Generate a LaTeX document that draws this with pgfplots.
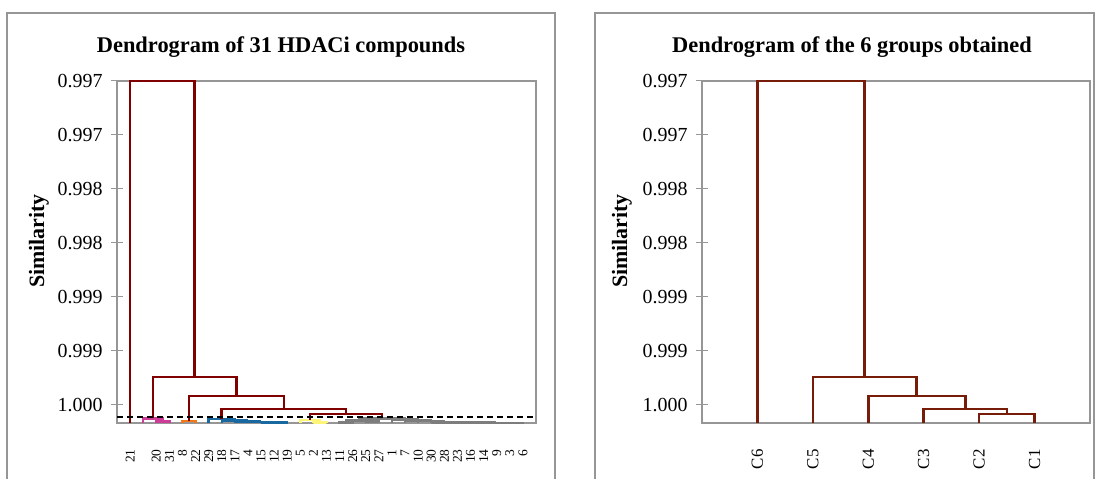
\documentclass[border=0pt]{standalone}
\usepackage{fontspec}
\setmainfont{Liberation Serif}
\usepackage{pgfplots}
\pgfplotsset{compat=1.18}
\definecolor{darkred}{RGB}{128,0,0}
\definecolor{brownred}{RGB}{118,28,8}
\definecolor{pinkc}{RGB}{205,60,150}
\definecolor{orangec}{RGB}{240,120,30}
\definecolor{bluec}{RGB}{25,105,160}
\definecolor{yellowc}{RGB}{255,245,120}
\definecolor{grayc}{RGB}{125,125,125}
\definecolor{framec}{RGB}{150,150,150}
\pgfplotsset{
  dendro/.style={
    scale only axis, width=419bp, height=342bp,
    y dir=reverse, ymin=0.9965, ymax=0.999667,
    clip=false,
    axis line style={framec, line width=1.2bp},
    ytick={0.9965,0.997,0.9975,0.998,0.9985,0.999,0.9995},
    yticklabels={0.997,0.997,0.998,0.998,0.999,0.999,1.000},
    ytick pos=left,
    tick align=center,
    major tick length=12bp,
    ytick style={framec, line width=1bp},
    xtick style={draw=none},
    yticklabel style={font=\fontsize{20}{20}\selectfont, xshift=-5bp},
    /pgf/number format/assume math mode=true,
  },
}
\begin{document}
\begin{tikzpicture}
\useasboundingbox (0,0) rectangle (1095bp,479bp);
\fill[white] (0,0) rectangle (1095bp,479bp);
\draw[framec, line width=1.2bp] (7bp,-10bp) -- (7bp,466bp) -- (555bp,466bp) -- (555bp,-10bp);
\draw[framec, line width=1.2bp] (595bp,-10bp) -- (595bp,466bp) -- (1094bp,466bp) -- (1094bp,-10bp);
% ---------- left ----------
\begin{axis}[dendro, at={(117bp,56bp)}, anchor=south west,
  xmin=0, xmax=32,
  xtick={1,...,31},
  xticklabels={21,,20,31,8,22,29,18,17,4,15,12,19,5,2,13,11,26,25,27,1,7,10,30,28,23,16,14,9,3,6},
  xticklabel style={font=\fontsize{13.5}{13.5}\selectfont, rotate=90, anchor=east, xshift=-17bp},
]
% pink
\addplot[pinkc, line width=2.5bp] coordinates {(3,0.999667)(3,0.999655)(4,0.999655)(4,0.999667)};
\addplot[pinkc, line width=2.5bp] coordinates {(2,0.999667)(2,0.999625)(3.5,0.999625)(3.5,0.999655)};
% orange
\addplot[orangec, line width=2.5bp] coordinates {(5,0.999667)(5,0.999650)(6,0.999650)(6,0.999667)};
% blue
\addplot[bluec, line width=2.5bp] coordinates {(12,0.999667)(12,0.999664)(13,0.999664)(13,0.999667)};
\addplot[bluec, line width=2.5bp] coordinates {(11,0.999667)(11,0.999661)(12.5,0.999661)(12.5,0.999664)};
\addplot[bluec, line width=2.5bp] coordinates {(10,0.999667)(10,0.999658)(11.75,0.999658)(11.75,0.999661)};
\addplot[bluec, line width=2.5bp] coordinates {(9,0.999667)(9,0.999652)(10.875,0.999652)(10.875,0.999658)};
\addplot[bluec, line width=2.5bp] coordinates {(8,0.999667)(8,0.999644)(9.94,0.999644)(9.94,0.999652)};
\addplot[bluec, line width=2.5bp] coordinates {(7,0.999667)(7,0.999630)(8.97,0.999630)(8.97,0.999644)};
% yellow
\addplot[yellowc, line width=2.5bp] coordinates {(15,0.999667)(15,0.999662)(16,0.999662)(16,0.999667)};
\addplot[yellowc, line width=2.5bp] coordinates {(14,0.999667)(14,0.999639)(15.5,0.999639)(15.5,0.999662)};
% gray
\addplot[grayc, line width=2.5bp] coordinates {(17,0.999667)(17,0.999664)(18,0.999664)(18,0.999667)};
\addplot[grayc, line width=2.5bp] coordinates {(19,0.999667)(19,0.999655)(20,0.999655)(20,0.999667)};
\addplot[grayc, line width=2.5bp] coordinates {(17.5,0.999664)(17.5,0.999645)(19.5,0.999645)(19.5,0.999655)};
\addplot[grayc, line width=2.5bp] coordinates {(30,0.999667)(30,0.999666)(31,0.999666)(31,0.999667)};
\addplot[grayc, line width=2.5bp] coordinates {(29,0.999667)(29,0.999665)(30.5,0.999665)(30.5,0.999666)};
\addplot[grayc, line width=2.5bp] coordinates {(28,0.999667)(28,0.999665)(29.75,0.999665)(29.75,0.999665)};
\addplot[grayc, line width=2.5bp] coordinates {(27,0.999667)(27,0.999664)(28.875,0.999664)(28.875,0.999665)};
\addplot[grayc, line width=2.5bp] coordinates {(26,0.999667)(26,0.999664)(27.94,0.999664)(27.94,0.999664)};
\addplot[grayc, line width=2.5bp] coordinates {(25,0.999667)(25,0.999663)(26.97,0.999663)(26.97,0.999664)};
\addplot[grayc, line width=2.5bp] coordinates {(24,0.999667)(24,0.999662)(25.98,0.999662)(25.98,0.999663)};
\addplot[grayc, line width=2.5bp] coordinates {(23,0.999667)(23,0.999650)(24.99,0.999650)(24.99,0.999662)};
\addplot[grayc, line width=2.5bp] coordinates {(22,0.999667)(22,0.999642)(23.995,0.999642)(23.995,0.999650)};
\addplot[grayc, line width=2.5bp] coordinates {(21,0.999667)(21,0.999635)(23.0,0.999635)(23.0,0.999642)};
\addplot[grayc, line width=2.5bp] coordinates {(18.5,0.999645)(18.5,0.999625)(22.0,0.999625)(22.0,0.999635)};
% main links
\addplot[darkred, line width=2.5bp] coordinates {(14.75,0.999639)(14.75,0.999583)(20.25,0.999583)(20.25,0.999625)};
\addplot[darkred, line width=2.5bp] coordinates {(7.985,0.999630)(7.985,0.999537)(17.5,0.999537)(17.5,0.999583)};
\addplot[darkred, line width=2.5bp] coordinates {(5.5,0.999650)(5.5,0.999417)(12.74,0.999417)(12.74,0.999537)};
\addplot[darkred, line width=2.5bp] coordinates {(2.75,0.999625)(2.75,0.999241)(9.12,0.999241)(9.12,0.999417)};
\addplot[darkred, line width=2.5bp] coordinates {(1,0.999667)(1,0.9965)(5.935,0.9965)(5.935,0.999241)};
% cut line
\addplot[black, line width=2.2bp, dash pattern=on 6bp off 4bp] coordinates {(0,0.999608)(32,0.999608)};
\end{axis}
% ---------- right ----------
\begin{axis}[dendro, at={(702bp,56bp)}, anchor=south west,
  width=388bp,
  xmin=0, xmax=7,
  xtick={1,...,6},
  xticklabels={C6,C5,C4,C3,C2,C1},
  xticklabel style={font=\fontsize{17}{17}\selectfont, rotate=90, anchor=east, xshift=-17bp},
]
\addplot[brownred, line width=2.5bp] coordinates {(5,0.999667)(5,0.999583)(6,0.999583)(6,0.999667)};
\addplot[brownred, line width=2.5bp] coordinates {(4,0.999667)(4,0.999537)(5.5,0.999537)(5.5,0.999583)};
\addplot[brownred, line width=2.5bp] coordinates {(3,0.999667)(3,0.999417)(4.75,0.999417)(4.75,0.999537)};
\addplot[brownred, line width=2.5bp] coordinates {(2,0.999667)(2,0.999241)(3.87,0.999241)(3.87,0.999417)};
\addplot[brownred, line width=2.5bp] coordinates {(1,0.999667)(1,0.9965)(2.935,0.9965)(2.935,0.999241)};
\end{axis}
% titles and labels
\node[font=\bfseries\fontsize{22.5}{22.5}\selectfont] at (281bp,432bp) {Dendrogram of 31 HDACi compounds};
\node[font=\bfseries\fontsize{22.5}{22.5}\selectfont] at (852bp,432bp) {Dendrogram of the 6 groups obtained};
\node[font=\bfseries\fontsize{22}{22}\selectfont, rotate=90] at (39bp,238bp) {Similarity};
\node[font=\bfseries\fontsize{22}{22}\selectfont, rotate=90] at (622bp,238bp) {Similarity};
\end{tikzpicture}
\end{document}
